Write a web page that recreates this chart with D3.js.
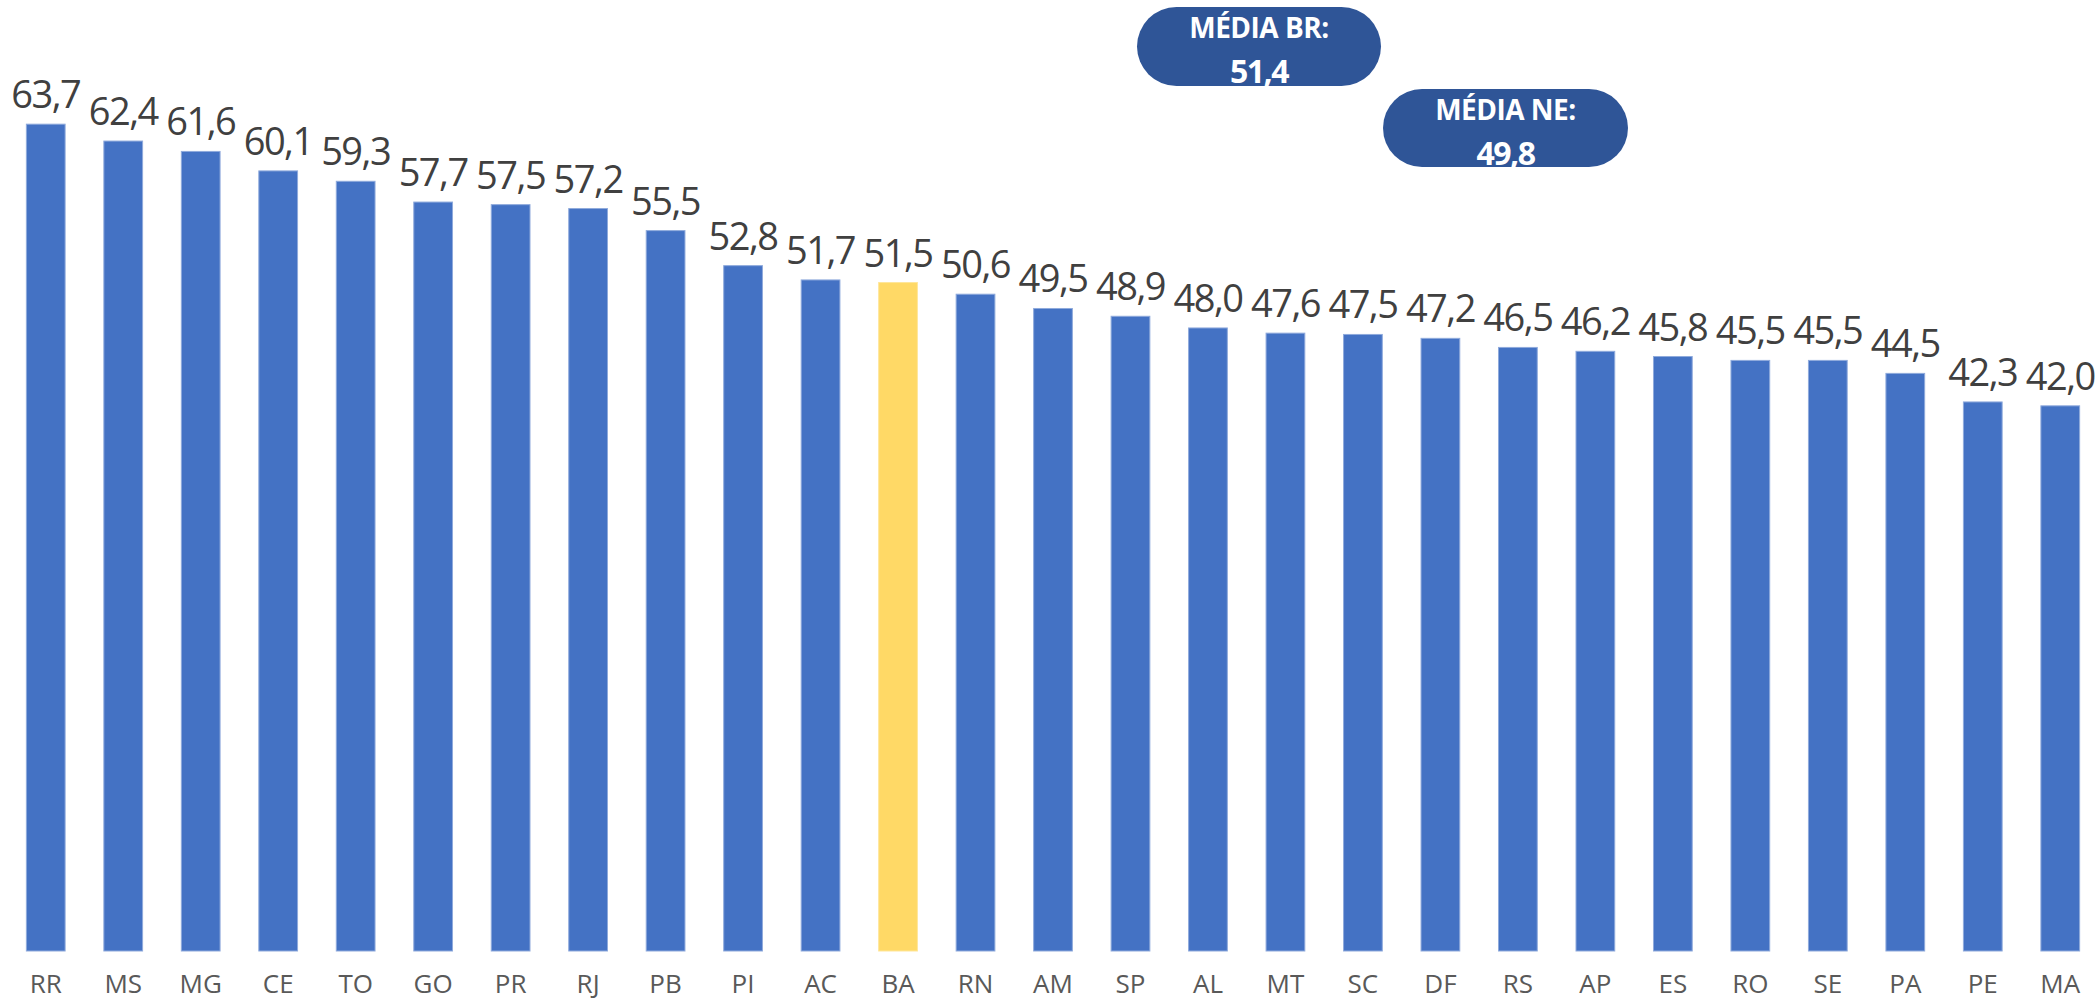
<!DOCTYPE html>
<html>
<head>
<meta charset="utf-8">
<script src="https://cdn.jsdelivr.net/npm/d3@7"></script>
<style>
  html, body { margin: 0; padding: 0; background: #fff; }
  svg { display: block; }
</style>
</head>
<body>
<svg id="chart" width="2097" height="1000"></svg>
<script>
// estados ordenados pelo valor
const states = ['RR', 'MS', 'MG', 'CE', 'TO', 'GO', 'PR', 'RJ', 'PB', 'PI', 'AC', 'BA', 'RN', 'AM',
  'SP', 'AL', 'MT', 'SC', 'DF', 'RS', 'AP', 'ES', 'RO', 'SE', 'PA', 'PE', 'MA'];
const values = [63.7, 62.4, 61.6, 60.1, 59.3, 57.7, 57.5, 57.2, 55.5, 52.8, 51.7, 51.5, 50.6, 49.5,
  48.9, 48.0, 47.6, 47.5, 47.2, 46.5, 46.2, 45.8, 45.5, 45.5, 44.5, 42.3, 42.0];
const highlight = ['BA'];
const badgeTitles = ['MÉDIA BR:', 'MÉDIA NE:'];
const badgeValues = [51.4, 49.8];

const W = 2097, H = 1000;
const svg = d3.select('#chart');

const ptBR = d3.formatLocale({ decimal: ',', thousands: '.', grouping: [3], currency: ['R$', ''] });
const fmt = ptBR.format('.1f');

const data = states.map((s, i) => ({ s, v: values[i] }));

const x = d3.scaleBand().domain(states).range([7, 2099]).paddingInner(0.5).paddingOuter(0.25);
const y = d3.scaleLinear().domain([0, 64]).range([951, 951 - 12.98 * 64]);

// barras
svg.append('g').selectAll('rect')
  .data(data)
  .join('rect')
  .attr('x', d => x(d.s))
  .attr('y', d => y(d.v))
  .attr('width', x.bandwidth())
  .attr('height', d => y(0) - y(d.v))
  .attr('fill', d => highlight.includes(d.s) ? '#FFD966' : '#4472C4')
  .attr('stroke', d => highlight.includes(d.s) ? '#FFE699' : '#8FAADC')
  .attr('stroke-width', 1);

// rótulos de valor
svg.append('g').selectAll('text')
  .data(data)
  .join('text')
  .attr('x', d => x(d.s) + x.bandwidth() / 2)
  .attr('y', d => y(d.v) - 16)
  .attr('text-anchor', 'middle')
  .attr('font-family', 'Open Sans, sans-serif')
  .attr('font-size', 38)
  .attr('letter-spacing', -1.5)
  .attr('fill', '#404040')
  .text(d => fmt(d.v));

// eixo x (só os textos)
const xAxis = svg.append('g')
  .attr('transform', `translate(0,${y(0)})`)
  .call(d3.axisBottom(x).tickSize(0));
xAxis.select('.domain').remove();
xAxis.selectAll('text')
  .attr('font-family', 'Open Sans, sans-serif')
  .attr('font-size', 26)
  .attr('fill', '#595959')
  .attr('dy', 0)
  .attr('y', 42);

// caixas de média
const badges = [
  { x: 1137, y: 7, w: 244, h: 79 },
  { x: 1383, y: 89, w: 245, h: 78 }
];
const bg = svg.append('g').selectAll('g')
  .data(badges)
  .join('g')
  .attr('transform', d => `translate(${d.x},${d.y})`);
bg.append('rect')
  .attr('width', d => d.w)
  .attr('height', d => d.h)
  .attr('rx', d => d.h / 2)
  .attr('fill', '#2F5597');
bg.append('text')
  .attr('x', d => d.w / 2)
  .attr('y', 31)
  .attr('text-anchor', 'middle')
  .attr('font-family', 'Open Sans, sans-serif')
  .attr('font-weight', 700)
  .attr('font-size', 28)
  .attr('letter-spacing', -0.5)
  .attr('fill', '#fff')
  .text((d, i) => badgeTitles[i]);
bg.append('text')
  .attr('x', d => d.w / 2)
  .attr('y', 76)
  .attr('text-anchor', 'middle')
  .attr('font-family', 'Open Sans, sans-serif')
  .attr('font-weight', 700)
  .attr('font-size', 32)
  .attr('letter-spacing', -1.5)
  .attr('fill', '#fff')
  .text((d, i) => fmt(badgeValues[i]));
</script>
</body>
</html>
